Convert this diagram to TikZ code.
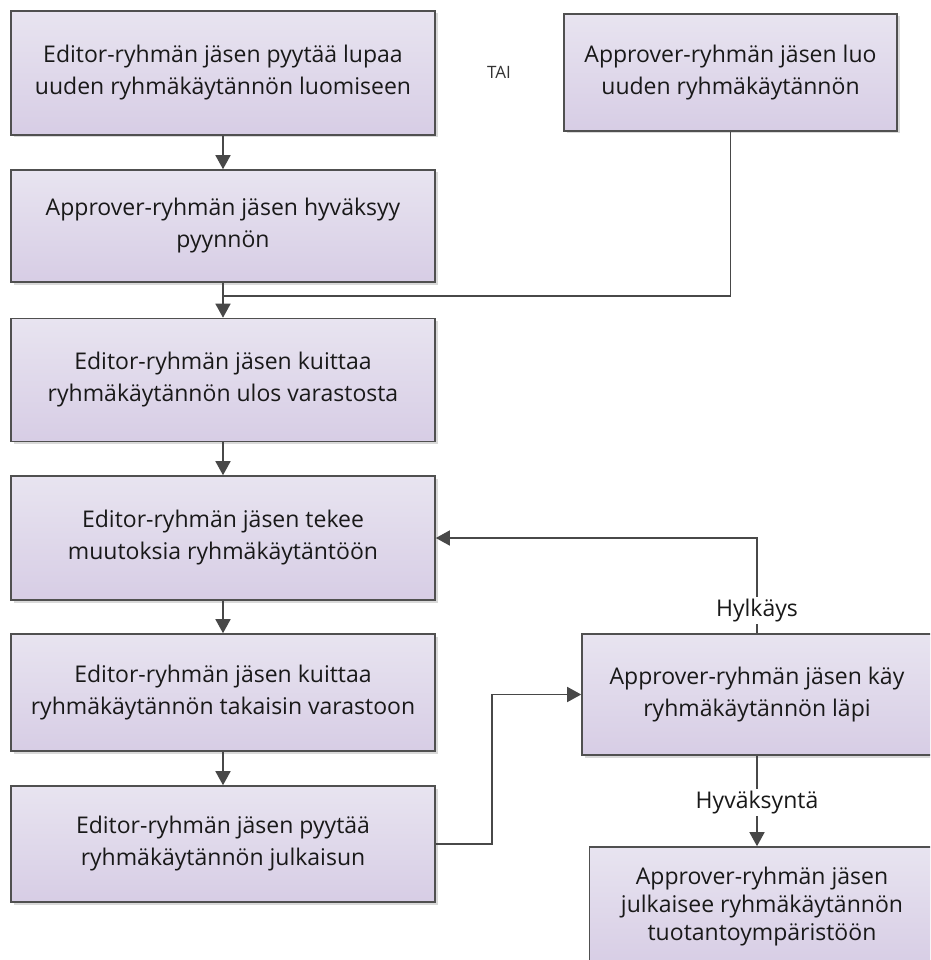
\documentclass[tikz,border=0pt]{standalone}
\usepackage{fontspec}
\setmainfont{Open Sans}
\usetikzlibrary{arrows.meta,shadows}
\definecolor{laatikkoylä}{HTML}{E8E4F0}
\definecolor{laatikkoala}{HTML}{D7CDE5}
\definecolor{reuna}{HTML}{505050}
\definecolor{viivanvari}{HTML}{484848}
\tikzset{
  vaihe/.style={draw=reuna, line width=1.6pt, top color=laatikkoylä, bottom color=laatikkoala,
    align=center, inner sep=0pt, minimum width=424pt, text=black!90,
    font=\fontsize{23}{32}\selectfont,
    drop shadow={shadow xshift=2.5pt, shadow yshift=-2.5pt, fill=black, opacity=0.15}},
  yhteys/.style={draw=viivanvari, line width=1.5pt},
  nuoli/.style={yhteys, -{Triangle[length=14pt, width=15pt]}},
  selite/.style={fill=white, inner sep=2pt, text=black!90, font=\fontsize{23}{26}\selectfont}
}
\begin{document}
\begin{tikzpicture}[x=1pt, y=-1pt]
\clip (0,0) rectangle (930,960);
\fill[white] (0,0) rectangle (930,960);
\node[vaihe, minimum height=124pt] (pyynto) at (223,73) {Editor-ryhmän jäsen pyytää lupaa\\uuden ryhmäkäytännön luomiseen};
\node[vaihe, minimum height=112pt] (hyvaksy) at (223,226) {Approver-ryhmän jäsen hyväksyy\\pyynnön};
\node[vaihe, minimum height=123pt] (ulos) at (223,380) {Editor-ryhmän jäsen kuittaa\\ryhmäkäytännön ulos varastosta};
\node[vaihe, minimum height=124pt] (muutos) at (223,538) {Editor-ryhmän jäsen tekee\\muutoksia ryhmäkäytäntöön};
\node[vaihe, minimum height=117pt] (takaisin) at (223,692.5) {Editor-ryhmän jäsen kuittaa\\ryhmäkäytännön takaisin varastoon};
\node[vaihe, minimum height=116pt] (julkpyynto) at (223,844) {Editor-ryhmän jäsen pyytää\\ryhmäkäytännön julkaisun};
\node[vaihe, minimum width=333pt, minimum height=117pt] (luo) at (730.5,72.5) {Approver-ryhmän jäsen luo\\uuden ryhmäkäytännön};
\node[vaihe, minimum width=350pt, minimum height=121pt] (lapi) at (757,694.5) {Approver-ryhmän jäsen käy\\ryhmäkäytännön läpi};
\node[vaihe, minimum width=345pt, minimum height=120pt, font=\fontsize{23}{28}\selectfont] (julkaisu) at (762,907) {Approver-ryhmän jäsen\\julkaisee ryhmäkäytännön\\tuotantoympäristöön};
\node[text=black!80, font=\fontsize{17}{20}\selectfont] (tai) at (499,72) {TAI};
\coordinate (yhtyma) at (223,296);
\coordinate (kaanne) at (492,844);
\draw[nuoli] (pyynto) -- (hyvaksy);
\draw[yhteys] (luo.south) |- (yhtyma);
\draw[nuoli] (hyvaksy) -- (ulos);
\draw[nuoli] (ulos) -- (muutos);
\draw[nuoli] (muutos) -- (takaisin);
\draw[nuoli] (takaisin) -- (julkpyynto);
\draw[nuoli] (julkpyynto.east) -- (kaanne) |- (lapi.west);
\draw[nuoli] (lapi.north) |- node[selite, pos=0.12] (hylkays) {Hylkäys} (muutos.east);
\draw[nuoli] (lapi.south) -- node[selite, pos=0.52] (hyvaksynta) {Hyväksyntä} (lapi.south |- julkaisu.north);
\end{tikzpicture}
\end{document}
